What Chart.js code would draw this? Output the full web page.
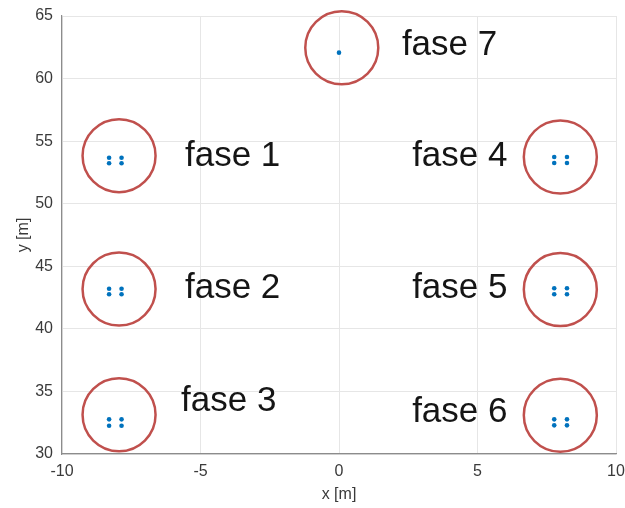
<!DOCTYPE html>
<html>
<head>
<meta charset="utf-8">
<script src="https://cdn.jsdelivr.net/npm/chart.js@4"></script>
<style>
  html, body { margin: 0; padding: 0; background: #fff; }
  #wrap { width: 625px; height: 508px; }
</style>
</head>
<body>
<div id="wrap"><canvas id="c"></canvas></div>
<script>
// phase circle centres [m]
const phaseNames = ['fase 1', 'fase 2', 'fase 3', 'fase 4', 'fase 5', 'fase 6', 'fase 7'];
const circleX = [-7.94, -7.94, -7.94, 7.99, 7.99, 7.99, 0.1];
const circleY = [53.84, 43.18, 33.14, 53.73, 43.14, 33.1, 62.46];

// blue points
const dotX = [-8.3, -7.85, -8.3, -7.85,  -8.3, -7.85, -8.3, -7.85,  -8.3, -7.85, -8.3, -7.85,
              7.77, 8.23, 7.77, 8.23,  7.77, 8.23, 7.77, 8.23,  7.77, 8.23, 7.77, 8.23,  0];
const dotY = [53.67, 53.67, 53.23, 53.23,  43.2, 43.2, 42.76, 42.76,  32.77, 32.77, 32.26, 32.26,
              53.73, 53.73, 53.25, 53.25,  43.24, 43.24, 42.76, 42.76,  32.77, 32.77, 32.29, 32.29,  62.07];

// label anchors (left edge, vertical middle) [m]
const labelX = [-5.56, -5.56, -5.7, 2.64, 2.64, 2.64, 2.27];
const labelY = [53.8, 43.25, 34.22, 53.8, 43.25, 33.35, 62.65];

const xTicks = [-10, -5, 0, 5, 10];
const yTicks = [30, 35, 40, 45, 50, 55, 60, 65];

const FONT = '"Liberation Sans", Arial, Helvetica, sans-serif';

const phaseLabels = {
  id: 'phaseLabels',
  afterDatasetsDraw(chart) {
    const ctx = chart.ctx;
    const xs = chart.scales.x, ys = chart.scales.y;
    ctx.save();
    ctx.font = '35px ' + FONT;
    ctx.fillStyle = '#151515';
    ctx.textAlign = 'left';
    ctx.textBaseline = 'middle';
    phaseNames.forEach((name, i) => {
      ctx.fillText(name, xs.getPixelForValue(labelX[i]), ys.getPixelForValue(labelY[i]));
    });
    ctx.restore();
  }
};

new Chart(document.getElementById('c'), {
  type: 'scatter',
  data: {
    datasets: [{
      label: 'points',
      data: dotX.map((x, i) => ({x: x, y: dotY[i]})),
      pointRadius: 2.3,
      pointBorderWidth: 0,
      backgroundColor: '#0072BD',
      borderColor: '#0072BD',
      clip: false
    }, {
      label: 'phases',
      data: circleX.map((x, i) => ({x: x, y: circleY[i]})),
      pointRadius: 36.5,
      pointBorderWidth: 2.5,
      backgroundColor: 'rgba(0,0,0,0)',
      borderColor: '#C0504D',
      clip: false
    }]
  },
  options: {
    responsive: true,
    maintainAspectRatio: false,
    animation: false,
    layout: { autoPadding: false, padding: { top: 16, right: 9, left: 0, bottom: 0 } },
    plugins: {
      legend: { display: false },
      tooltip: { enabled: false }
    },
    scales: {
      x: {
        type: 'linear',
        min: -10, max: 10,
        afterBuildTicks: s => { s.ticks = xTicks.map(v => ({value: v})); },
        afterFit: s => { s.height = 54; s.paddingLeft = 0; s.paddingRight = 0; },
        grid: { color: '#e6e6e6', drawTicks: false },
        border: { color: '#8c8c8c', width: 1.2 },
        ticks: { padding: 8, color: '#3a3a3a', font: { family: FONT, size: 16 } },
        title: { display: true, text: 'x [m]', color: '#3a3a3a', padding: { top: 0, bottom: 4 },
                 font: { family: FONT, size: 16 } }
      },
      y: {
        type: 'linear',
        min: 30, max: 65,
        afterBuildTicks: s => { s.ticks = yTicks.map(v => ({value: v})); },
        afterFit: s => { s.width = 62; s.paddingTop = 0; s.paddingBottom = 0; },
        grid: { color: '#e6e6e6', drawTicks: false },
        border: { color: '#8c8c8c', width: 1.2 },
        ticks: { padding: 9, color: '#3a3a3a', font: { family: FONT, size: 16 } },
        title: { display: true, text: 'y [m]', color: '#3a3a3a', padding: { top: 14, bottom: 0 },
                 font: { family: FONT, size: 16 } }
      }
    }
  },
  plugins: [phaseLabels]
});
</script>
</body>
</html>
